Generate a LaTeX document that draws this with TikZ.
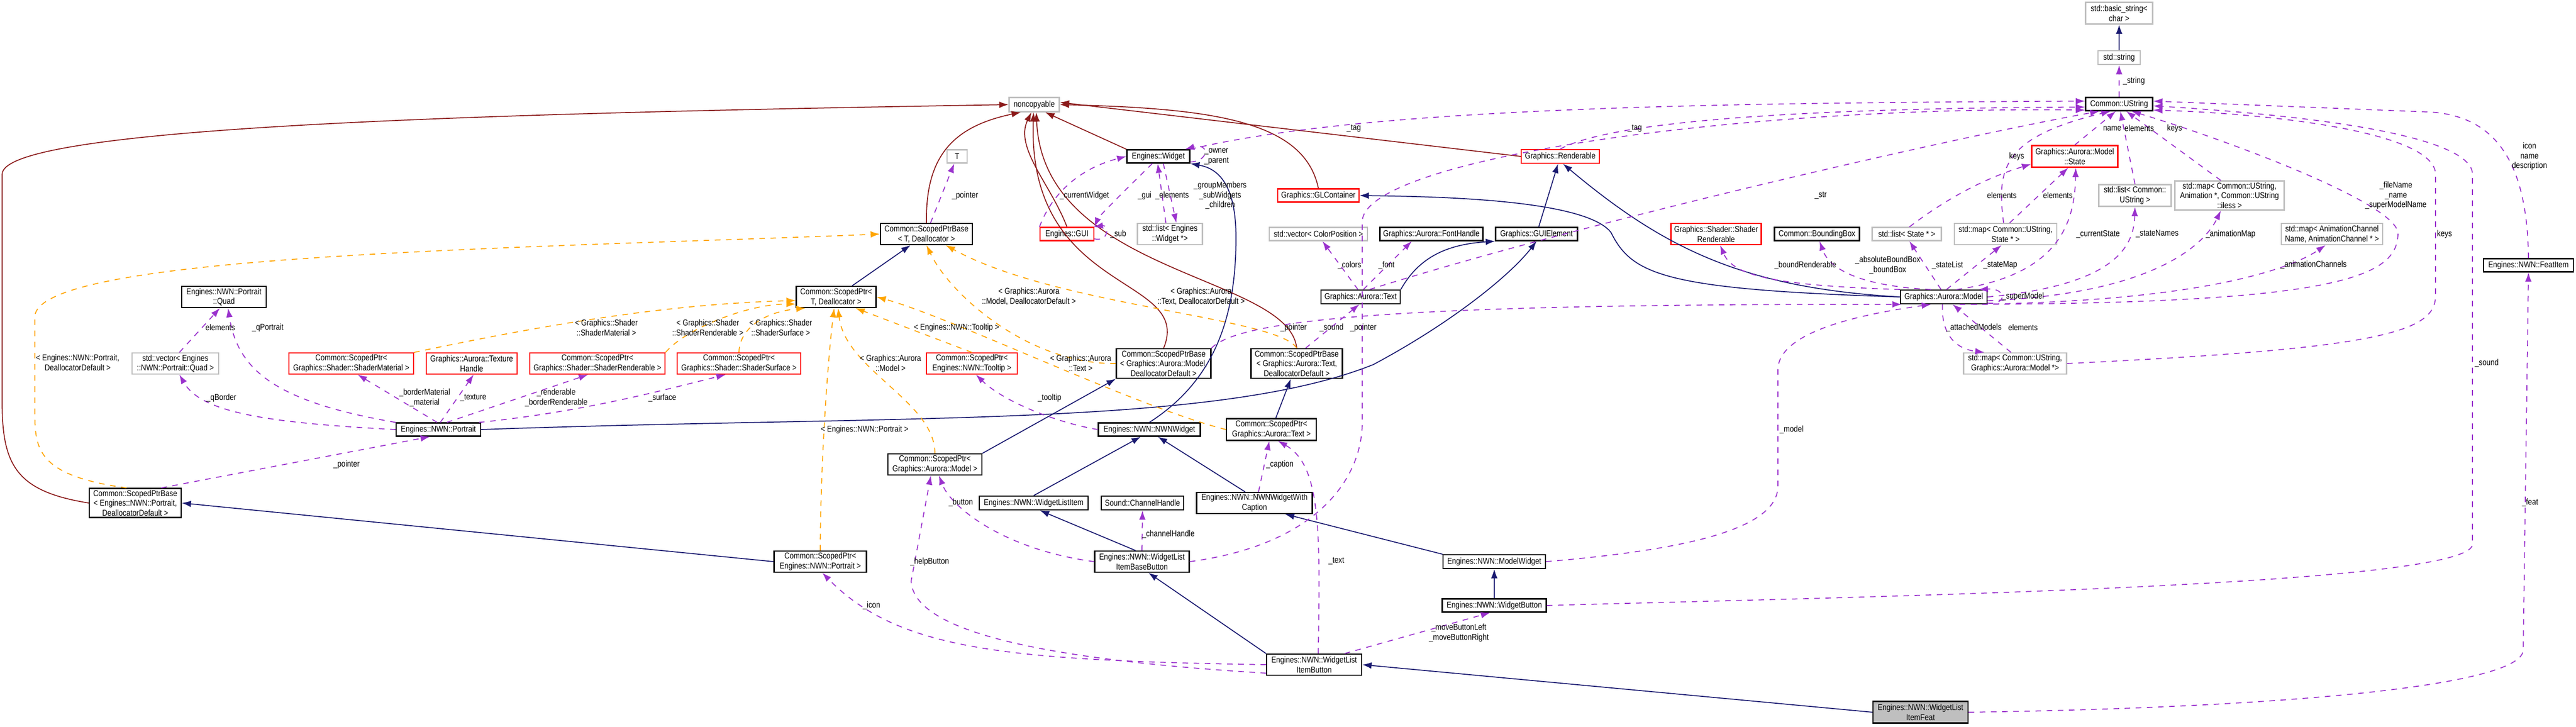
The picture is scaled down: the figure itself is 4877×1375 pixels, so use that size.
\documentclass[tikz,border=0pt]{standalone}
\usepackage{fontspec}
\setmainfont{Liberation Sans}[FakeStretch=0.85]
\usetikzlibrary{arrows.meta}
\definecolor{inhc}{HTML}{191970}
\definecolor{usec}{HTML}{9A32CD}
\definecolor{tplc}{HTML}{FFA500}
\definecolor{ncc}{HTML}{8B1A1A}
\definecolor{grayb}{HTML}{BFBFBF}
\tikzset{
 box/.style={draw=black,fill=white,align=center,inner sep=0.5pt,line width=0.6pt,font=\fontsize{4.6}{5.3}\selectfont},
 gbox/.style={box,draw=grayb},
 rbox/.style={box,draw=red},
 lbl/.style={align=center,inner sep=0pt,font=\fontsize{4.6}{5.3}\selectfont},
 inh/.style={draw=inhc,line width=0.5pt,-{Latex[length=5pt,width=3.5pt]}},
 usee/.style={draw=usec,line width=0.5pt,dashed,-{Latex[length=5pt,width=3.5pt]}},
 tpl/.style={draw=tplc,line width=0.5pt,dashed,-{Latex[length=5pt,width=3.5pt]}},
 ncp/.style={draw=ncc,line width=0.5pt,-{Latex[length=5pt,width=3.5pt]}},
}
\newcommand\nd[7]{\node[#6,minimum width=#4*0.01cm,minimum height=#5*0.01cm] (#1) at (#2,#3) {#7};}
\newcommand\lb[4]{\node[lbl] (#1) at (#2,#3) {#4};}
\begin{document}
\begin{tikzpicture}[x=0.01cm,y=-0.01cm]
\useasboundingbox (0,0) rectangle (4877,1375);
% nodes
\nd{basicstr}{4012}{25}{127}{41}{gbox}{std::basic\_string<\\ char >}
\nd{stdstr}{4012}{109}{80}{26}{gbox}{std::string}
\nd{ustr}{4012}{197}{127}{25}{box}{Common::UString}
\nd{nc}{1958}{198}{95}{27}{gbox}{noncopyable}
\nd{widget}{2193}{296}{119}{25}{box}{Engines::Widget}
\nd{renderable}{2954}{296}{148}{26}{rbox}{Graphics::Renderable}
\nd{T}{1812}{296}{38}{25}{gbox}{T}
\nd{state}{3928}{296}{163}{41}{rbox}{Graphics::Aurora::Model\\::State}
\nd{glc}{2496}{370}{154}{25}{rbox}{Graphics::GLContainer}
\nd{spbT}{1754}{443}{174}{40}{box}{Common::ScopedPtrBase\\< T, Deallocator >}
\nd{gui}{2020}{443}{102}{25}{rbox}{Engines::GUI}
\nd{wlist}{2215}{443}{123}{40}{gbox}{std::list< Engines\\::Widget *>}
\nd{colvec}{2496}{443}{186}{25}{gbox}{std::vector< ColorPosition >}
\nd{fonth}{2710}{443}{195}{25}{box}{Graphics::Aurora::FontHandle}
\nd{guiel}{2909}{443}{155}{25}{box}{Graphics::GUIElement}
\nd{shrend}{3249}{443}{171}{40}{rbox}{Graphics::Shader::Shader\\Renderable}
\nd{bbox}{3440}{443}{161}{25}{box}{Common::BoundingBox}
\nd{liststate}{3610}{443}{131}{25}{gbox}{std::list< State * >}
\nd{mapstate}{3797}{443}{194}{40}{gbox}{std::map< Common::UString,\\ State * >}
\nd{listustr}{4042}{370}{137}{41}{gbox}{std::list< Common::\\UString >}
\nd{mapanim}{4221}{370}{207}{55}{gbox}{std::map< Common::UString,\\ Animation *, Common::UString\\::iless >}
\nd{mapchan}{4415}{443}{192}{40}{gbox}{std::map< AnimationChannel\\Name, AnimationChannel * >}
\nd{featitem}{4787}{502}{170}{25}{box}{Engines::NWN::FeatItem}
\nd{quad}{424}{562}{160}{40}{box}{Engines::NWN::Portrait\\::Quad}
\nd{spT}{1583}{562}{151}{40}{box}{Common::ScopedPtr<\\ T, Deallocator >}
\nd{text}{2576}{562}{150}{26}{box}{Graphics::Aurora::Text}
\nd{model}{3680}{562}{164}{26}{box}{Graphics::Aurora::Model}
\nd{quadvec}{332}{688}{164}{40}{gbox}{std::vector< Engines\\::NWN::Portrait::Quad >}
\nd{spmat}{665}{688}{236}{40}{rbox}{Common::ScopedPtr<\\ Graphics::Shader::ShaderMaterial >}
\nd{texh}{893}{688}{172}{40}{rbox}{Graphics::Aurora::Texture\\Handle}
\nd{sprend}{1131}{688}{256}{40}{rbox}{Common::ScopedPtr<\\ Graphics::Shader::ShaderRenderable >}
\nd{spsurf}{1399}{688}{234}{40}{rbox}{Common::ScopedPtr<\\ Graphics::Shader::ShaderSurface >}
\nd{sptool}{1840}{688}{172}{40}{rbox}{Common::ScopedPtr<\\ Engines::NWN::Tooltip >}
\nd{spbM}{2203}{688}{179}{56}{box}{Common::ScopedPtrBase\\< Graphics::Aurora::Model,\\ DeallocatorDefault >}
\nd{spbTx}{2455}{688}{173}{56}{box}{Common::ScopedPtrBase\\< Graphics::Aurora::Text,\\ DeallocatorDefault >}
\nd{mapmodel}{3815}{688}{195}{40}{gbox}{std::map< Common::UString,\\ Graphics::Aurora::Model *>}
\nd{portrait}{830}{813}{160}{25}{box}{Engines::NWN::Portrait}
\nd{nwnw}{2176}{813}{193}{25}{box}{Engines::NWN::NWNWidget}
\nd{sptext}{2407}{813}{170}{41}{box}{Common::ScopedPtr<\\ Graphics::Aurora::Text >}
\nd{spmodel}{1770}{879}{178}{40}{box}{Common::ScopedPtr<\\ Graphics::Aurora::Model >}
\nd{spbP}{256}{952}{174}{55}{box}{Common::ScopedPtrBase\\< Engines::NWN::Portrait,\\ DeallocatorDefault >}
\nd{wli}{1957}{952}{206}{26}{box}{Engines::NWN::WidgetListItem}
\nd{chan}{2163}{952}{156}{26}{box}{Sound::ChannelHandle}
\nd{wwc}{2375}{952}{219}{40}{box}{Engines::NWN::NWNWidgetWith\\Caption}
\nd{spport}{1553}{1063}{175}{40}{box}{Common::ScopedPtr<\\ Engines::NWN::Portrait >}
\nd{wlbb}{2162}{1063}{179}{40}{box}{Engines::NWN::WidgetList\\ItemBaseButton}
\nd{modelw}{2829}{1063}{194}{26}{box}{Engines::NWN::ModelWidget}
\nd{wbtn}{2829}{1146}{197}{25}{box}{Engines::NWN::WidgetButton}
\nd{wlib}{2488}{1258}{180}{40}{box}{Engines::NWN::WidgetList\\ItemButton}
\nd{feat}{3636}{1348}{180}{41}{box,fill=grayb}{Engines::NWN::WidgetList\\ItemFeat}
% inheritance
\draw[inh] (stdstr) -- (basicstr);
\draw[inh] (spT) -- (spbT);
\draw[inh] (spmodel.north east) -- (spbM.south west);
\draw[inh] (sptext) -- (spbTx);
\draw[inh] (spport.west) -- (spbP.east);
\draw[inh] (guiel) -- (renderable);
\draw[inh] (model.west) .. controls (3300,545) and (3150,470) .. (renderable.-70);
\draw[inh] (model.west) .. controls (3150,548) and (3090,520) .. (3050,440) .. controls (3000,375) and (2700,372) .. (glc.east);
\draw[inh] (text.north east) .. controls (2690,480) and (2750,462) .. (guiel.south west);
\draw[inh] (portrait.east) .. controls (1700,785) and (2300,810) .. (2600,690) .. controls (2750,610) and (2860,520) .. (guiel.south);
\draw[inh] (nwnw.north) .. controls (2300,720) and (2340,600) .. (2340,450) .. controls (2340,340) and (2300,318) .. (widget.south east);
\draw[inh] (wwc.130) -- (nwnw.-40);
\draw[inh] (wli.north) -- (nwnw.-140);
\draw[inh] (modelw.north west) -- (wwc.-20);
\draw[inh] (wbtn) -- (modelw);
\draw[inh] (wlbb.120) -- (wli.-50);
\draw[inh] (wlib.north west) -- (wlbb.-60);
\draw[inh] (feat.west) -- (wlib.east);
% noncopyable
\draw[ncp] (spbP.west) .. controls (30,930) and (4,880) .. (4,760) -- (4,330) .. controls (4,240) and (900,215) .. (nc.west);
\draw[ncp] (spbT.north) .. controls (1752,300) and (1800,240) .. (nc.-150);
\draw[ncp] (gui.north) .. controls (1990,350) and (1920,280) .. (nc.-110);
\draw[ncp] (spbM.north) .. controls (2260,520) and (1945,560) .. (nc.-95);
\draw[ncp] (spbTx.north) .. controls (2440,520) and (1975,520) .. (nc.-75);
\draw[ncp] (widget.north west) -- (nc.-35);
\draw[ncp] (glc.north) .. controls (2470,230) and (2300,205) .. (nc.east);
\draw[ncp] (renderable.west) -- (nc.5);
% templates
\draw[tpl] (spbP.120) .. controls (70,900) and (66,850) .. (66,780) -- (66,600) .. controls (66,480) and (1000,470) .. (spbT.west);
\draw[tpl] (spmat.north east) .. controls (1100,600) and (1300,575) .. (spT.-175);
\draw[tpl] (sprend.north east) .. controls (1300,620) and (1420,575) .. (spT.-170);
\draw[tpl] (spsurf.north) .. controls (1400,620) and (1450,590) .. (spT.-160);
\draw[tpl] (sptool.north) -- (spT.-30);
\draw[tpl] (spmodel.north) .. controls (1770,760) and (1600,700) .. (spT.-80);
\draw[tpl] (spport.north) .. controls (1553,900) and (1565,700) .. (spT.-100);
\draw[tpl] (sptext.west) .. controls (2150,770) and (1800,600) .. (spT.east);
\draw[tpl] (spbM.west) .. controls (1950,690) and (1800,560) .. (spbT.south);
\draw[tpl] (spbTx.north) .. controls (2420,600) and (2000,580) .. (spbT.-30);
% usage
\draw[usee] (ustr) -- (stdstr);
\draw[usee] (spbT.70) -- (T);
\draw[usee] (gui.north west) .. controls (1990,370) and (2040,320) .. (widget.west);
\draw[usee] (widget.-130) .. controls (2130,360) and (2080,410) .. (gui.north east);
\draw[usee] (wlist.110) -- (widget.-95);
\draw[usee] (widget.-55) -- (wlist.60);
\draw[usee] (widget.-10) .. controls (2290,305) and (2290,270) .. (widget.15);
\draw[usee] (gui.-10) .. controls (2100,458) and (2100,425) .. (gui.15);
\draw[usee] (widget.north east) .. controls (2600,200) and (3300,195) .. (ustr.175);
\draw[usee] (renderable.north) .. controls (3050,230) and (3400,205) .. (ustr.-175);
\draw[usee] (text.40) .. controls (3000,420) and (3700,260) .. (ustr.-160);
\draw[usee] (text.70) -- (fonth.-160);
\draw[usee] (text.110) -- (colvec.-60);
\draw[usee] (spbTx.60) -- (text.-100);
\draw[usee] (spbM.north east) .. controls (2350,600) and (2700,575) .. (model.-170);
\draw[usee] (wlbb.east) .. controls (2500,1030) and (2579,900) .. (2579,800) -- (2579,420) .. controls (2579,300) and (3300,200) .. (ustr.-170);
\draw[usee] (model.north west) .. controls (3350,540) and (3280,520) .. (shrend.-70);
\draw[usee] (model.150) .. controls (3500,540) and (3460,500) .. (bbox.-70);
\draw[usee] (model.110) -- (liststate.-70);
\draw[usee] (model.70) -- (mapstate.-110);
\draw[usee] (model.30) .. controls (3900,520) and (3928,420) .. (state.-85);
\draw[usee] (model.east) .. controls (4000,540) and (4040,470) .. (listustr.south);
\draw[usee] (model.-5) .. controls (4100,555) and (4180,450) .. (mapanim.-120);
\draw[usee] (model.-15) .. controls (4200,570) and (4350,500) .. (mapchan.-120);
\draw[usee] (model.-25) .. controls (4450,575) and (4540,520) .. (4540,440) .. controls (4530,380) and (4200,260) .. (ustr.-30);
\draw[usee] (model.-8) .. controls (3800,578) and (3800,545) .. (model.12);
\draw[usee] (model.-100) .. controls (3675,630) and (3700,660) .. (mapmodel.160);
\draw[usee] (mapmodel.110) -- (model.-40);
\draw[usee] (mapmodel.east) .. controls (4500,660) and (4611,630) .. (4611,560) -- (4611,330) .. controls (4611,250) and (4300,215) .. (ustr.-10);
\draw[usee] (liststate.70) .. controls (3680,380) and (3750,340) .. (state.-170);
\draw[usee] (mapstate.70) -- (state.-120);
\draw[usee] (mapstate.100) .. controls (3780,320) and (3790,260) .. (ustr.-140);
\draw[usee] (state.north) -- (ustr.-115);
\draw[usee] (listustr.north) -- (ustr.-80);
\draw[usee] (mapanim.120) -- (ustr.-45);
\draw[usee] (featitem.north) .. controls (4785,330) and (4740,220) .. (4600,212) -- (ustr.5);
\draw[usee] (wbtn.east) .. controls (3500,1130) and (4681,1110) .. (4681,1030) -- (4681,330) .. controls (4681,260) and (4400,220) .. (ustr.-3);
\draw[usee] (feat.east) .. controls (4300,1340) and (4777,1300) .. (4777,1230) -- (featitem.south);
\draw[usee] (modelw.east) .. controls (3200,1040) and (3366,1000) .. (3366,920) -- (3366,700) .. controls (3366,620) and (3560,590) .. (model.-150);
\draw[usee] (portrait.west) .. controls (500,800) and (380,780) .. (quadvec.-70);
\draw[usee] (portrait.north west) .. controls (520,760) and (450,700) .. (quad.-70);
\draw[usee] (quadvec.70) -- (quad.-110);
\draw[usee] (portrait.100) -- (spmat.-60);
\draw[usee] (portrait.75) -- (texh.-80);
\draw[usee] (portrait.40) -- (sprend.-130);
\draw[usee] (portrait.10) .. controls (1100,780) and (1250,740) .. (spsurf.-140);
\draw[usee] (spbP.30) -- (portrait.-140);
\draw[usee] (nwnw.west) .. controls (2000,800) and (1900,760) .. (sptool.-70);
\draw[usee] (wwc.70) -- (sptext.-100);
\draw[usee] (wlib.70) .. controls (2500,1000) and (2500,880) .. (sptext.-60);
\draw[usee] (wlib.20) -- (wbtn.-120);
\draw[usee] (wlbb.west) .. controls (1900,1040) and (1800,960) .. (spmodel.-70);
\draw[usee] (wlib.-170) .. controls (2000,1250) and (1730,1200) .. (1725,1100) -- (spmodel.-110);
\draw[usee] (wlib.west) .. controls (1900,1250) and (1700,1230) .. (spport.-80);
\draw[usee] (wlbb.north) -- (chan.south);
% labels
\lb{l1}{4040}{153}{\_string}
\lb{l2}{2563}{243}{\_tag}
\lb{l3}{3095}{243}{\_tag}
\lb{l4}{1827}{370}{\_pointer}
\lb{l5}{2053}{370}{\_currentWidget}
\lb{l6}{2167}{370}{\_gui}
\lb{l7}{2219}{370}{\_elements}
\lb{l8}{2310}{370}{\_groupMembers\\\_subWidgets\\\_children}
\lb{l9}{2303}{296}{\_owner\\\_parent}
\lb{l10}{2117}{443}{\_sub}
\lb{l11}{2555}{502}{\_colors}
\lb{l12}{2625}{502}{\_font}
\lb{l13}{3999}{243}{name}
\lb{l14}{4050}{243}{elements}
\lb{l15}{4117}{243}{keys}
\lb{l16}{3818}{296}{keys}
\lb{l17}{3447}{370}{\_str}
\lb{l18}{3790}{370}{elements}
\lb{l19}{3896}{370}{elements}
\lb{l20}{3972}{443}{\_currentState}
\lb{l21}{4084}{443}{\_stateNames}
\lb{l22}{4223}{443}{\_animationMap}
\lb{l23}{4536}{370}{\_fileName\\\_name\\\_superModelName}
\lb{l24}{4628}{443}{keys}
\lb{l25}{4789}{296}{icon\\name\\description}
\lb{l26}{3418}{502}{\_boundRenderable}
\lb{l27}{3574}{502}{\_absoluteBoundBox\\\_boundBox}
\lb{l28}{3687}{502}{\_stateList}
\lb{l29}{3787}{502}{\_stateMap}
\lb{l30}{4380}{501}{\_animationChannels}
\lb{l31}{3830}{561}{\_superModel}
\lb{l32}{3737}{620}{\_attachedModels}
\lb{l33}{3830}{620}{elements}
\lb{l34}{1948}{561}{< Graphics::Aurora\\::Model, DeallocatorDefault >}
\lb{l35}{2274}{561}{< Graphics::Aurora\\::Text, DeallocatorDefault >}
\lb{l36}{1148}{620}{< Graphics::Shader\\::ShaderMaterial >}
\lb{l37}{1340}{620}{< Graphics::Shader\\::ShaderRenderable >}
\lb{l38}{1478}{620}{< Graphics::Shader\\::ShaderSurface >}
\lb{l39}{1811}{620}{< Engines::NWN::Tooltip >}
\lb{l40}{417}{620}{elements}
\lb{l41}{507}{620}{\_qPortrait}
\lb{l42}{2449}{620}{\_pointer}
\lb{l43}{2521}{620}{\_sound}
\lb{l44}{2581}{620}{\_pointer}
\lb{l45}{147}{686}{< Engines::NWN::Portrait,\\ DeallocatorDefault >}
\lb{l46}{1686}{687}{< Graphics::Aurora\\::Model >}
\lb{l47}{2046}{687}{< Graphics::Aurora\\::Text >}
\lb{l48}{419}{753}{\_qBorder}
\lb{l49}{804}{753}{\_borderMaterial\\\_material}
\lb{l50}{896}{753}{\_texture}
\lb{l51}{1053}{753}{\_renderable\\\_borderRenderable}
\lb{l52}{1254}{753}{\_surface}
\lb{l53}{1987}{753}{\_tooltip}
\lb{l54}{1637}{813}{< Engines::NWN::Portrait >}
\lb{l55}{3392}{813}{\_model}
\lb{l56}{656}{879}{\_pointer}
\lb{l57}{2423}{879}{\_caption}
\lb{l58}{1819}{951}{\_button}
\lb{l59}{2212}{1011}{\_channelHandle}
\lb{l60}{1760}{1063}{\_helpButton}
\lb{l61}{2530}{1062}{\_text}
\lb{l62}{1650}{1146}{\_icon}
\lb{l63}{2762}{1198}{\_moveButtonLeft\\\_moveButtonRight}
\lb{l64}{4708}{687}{\_sound}
\lb{l65}{4790}{951}{\_feat}
\end{tikzpicture}
\end{document}
